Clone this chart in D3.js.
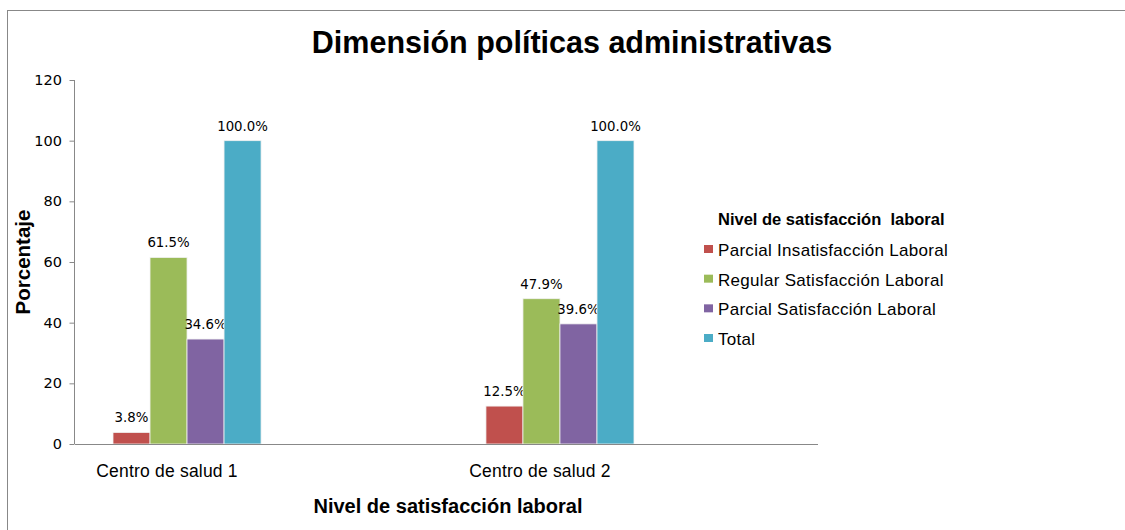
<!DOCTYPE html>
<html><head><meta charset="utf-8">
<script src="https://cdn.jsdelivr.net/npm/d3@7"></script>
<style>body{margin:0;background:#fff}svg{display:block}</style>
</head><body>
<svg id="c" width="1125" height="530"></svg>
<script>
const categories = ["Centro de salud 1", "Centro de salud 2"];
const seriesNames = ["Parcial Insatisfacción Laboral", "Regular Satisfacción Laboral", "Parcial Satisfacción Laboral", "Total"];
const parcialInsatisfaccion = [3.8, 12.5];
const regularSatisfaccion = [61.5, 47.9];
const parcialSatisfaccion = [34.6, 39.6];
const total = [100.0, 100.0];
const yTicks = [0, 20, 40, 60, 80, 100, 120];
const colors = ["#C0504D", "#9BBB59", "#8064A2", "#4BACC6"];

const seriesValues = [parcialInsatisfaccion, regularSatisfaccion, parcialSatisfaccion, total];
const svg = d3.select("#c");
const ARIAL = "'Liberation Sans', Arial, sans-serif";
const DEJAVU = "'DejaVu Sans', sans-serif";

// outer chart border
svg.append("rect").attr("x", 7.5).attr("y", 10.5).attr("width", 1130).attr("height", 530)
  .attr("fill", "none").attr("stroke", "#888").attr("stroke-width", 1);

const y = d3.scaleLinear().domain([0, 120]).range([444, 80]);
const x0 = d3.scaleBand().domain(categories).range([113, 634]).paddingInner(0.603).paddingOuter(0);
const x1 = d3.scaleBand().domain(seriesNames).range([0, x0.bandwidth()]).padding(0);

// y axis
const yAxis = svg.append("g").attr("transform", "translate(75,0)")
  .call(d3.axisLeft(y).tickValues(yTicks).tickSize(5).tickPadding(8));
yAxis.select(".domain").attr("stroke", "#888").attr("d", `M-0.5,${y(120)}V${y(0)}`);
yAxis.selectAll(".tick line").attr("stroke", "#888").attr("transform", "translate(-0.5,0)");
yAxis.selectAll(".tick text").attr("font-family", DEJAVU).attr("font-size", 14.5).attr("fill", "#000");

// bars
const groups = svg.append("g").selectAll("g").data(categories).join("g")
  .attr("transform", c => `translate(${x0(c)},0)`);
groups.each(function(c, ci) {
  const g = d3.select(this);
  seriesNames.forEach((s, si) => {
    const v = seriesValues[si][ci];
    g.append("rect").attr("x", x1(s)).attr("y", y(v)).attr("width", x1.bandwidth())
      .attr("height", y(0) - y(v)).attr("fill", colors[si])
      .attr("stroke", "#f2f2f2").attr("stroke-width", 0.8);
    g.append("text").attr("x", x1(s) + x1.bandwidth() / 2).attr("y", y(v) - 10)
      .attr("text-anchor", "middle").attr("font-family", DEJAVU)
      .attr("font-size", 13.3).attr("fill", "#000").text(v.toFixed(1) + "%");
  });
});

// x axis line
svg.append("line").attr("x1", 75).attr("x2", 818).attr("y1", 444.5).attr("y2", 444.5)
  .attr("stroke", "#888").attr("stroke-width", 1.2);

// category labels
svg.append("g").selectAll("text").data(categories).join("text")
  .attr("x", c => x0(c) + x0.bandwidth() / 2 - 20).attr("y", 477)
  .attr("text-anchor", "middle").attr("font-family", ARIAL)
  .attr("font-size", 17.5).attr("letter-spacing", 0.2).attr("fill", "#000").text(c => c);

// title
svg.append("text").attr("x", 572).attr("y", 53).attr("text-anchor", "middle")
  .attr("font-family", ARIAL).attr("font-weight", "bold")
  .attr("font-size", 30.5).attr("fill", "#000").text("Dimensión políticas administrativas");

// axis titles
svg.append("text").attr("transform", "translate(30,262) rotate(-90)").attr("text-anchor", "middle")
  .attr("font-family", ARIAL).attr("font-weight", "bold")
  .attr("font-size", 20.5).attr("fill", "#000").text("Porcentaje");
svg.append("text").attr("x", 448).attr("y", 513).attr("text-anchor", "middle")
  .attr("font-family", ARIAL).attr("font-weight", "bold")
  .attr("font-size", 20).attr("fill", "#000").text("Nivel de satisfacción laboral");

// legend
const lg = svg.append("g");
lg.append("text").attr("x", 718).attr("y", 225).attr("font-family", ARIAL)
  .attr("font-weight", "bold").attr("font-size", 16.5).attr("fill", "#000").attr("xml:space", "preserve")
  .text("Nivel de satisfacción  laboral");
const ly = d3.scalePoint().domain(seriesNames).range([256, 345]);
seriesNames.forEach((s, i) => {
  lg.append("rect").attr("x", 704).attr("y", ly(s) - 11).attr("width", 9).attr("height", 8).attr("fill", colors[i]);
  lg.append("text").attr("x", 718).attr("y", ly(s)).attr("font-family", ARIAL)
    .attr("font-size", 17).attr("letter-spacing", 0.3).attr("fill", "#000").text(s);
});
</script>
</body></html>
